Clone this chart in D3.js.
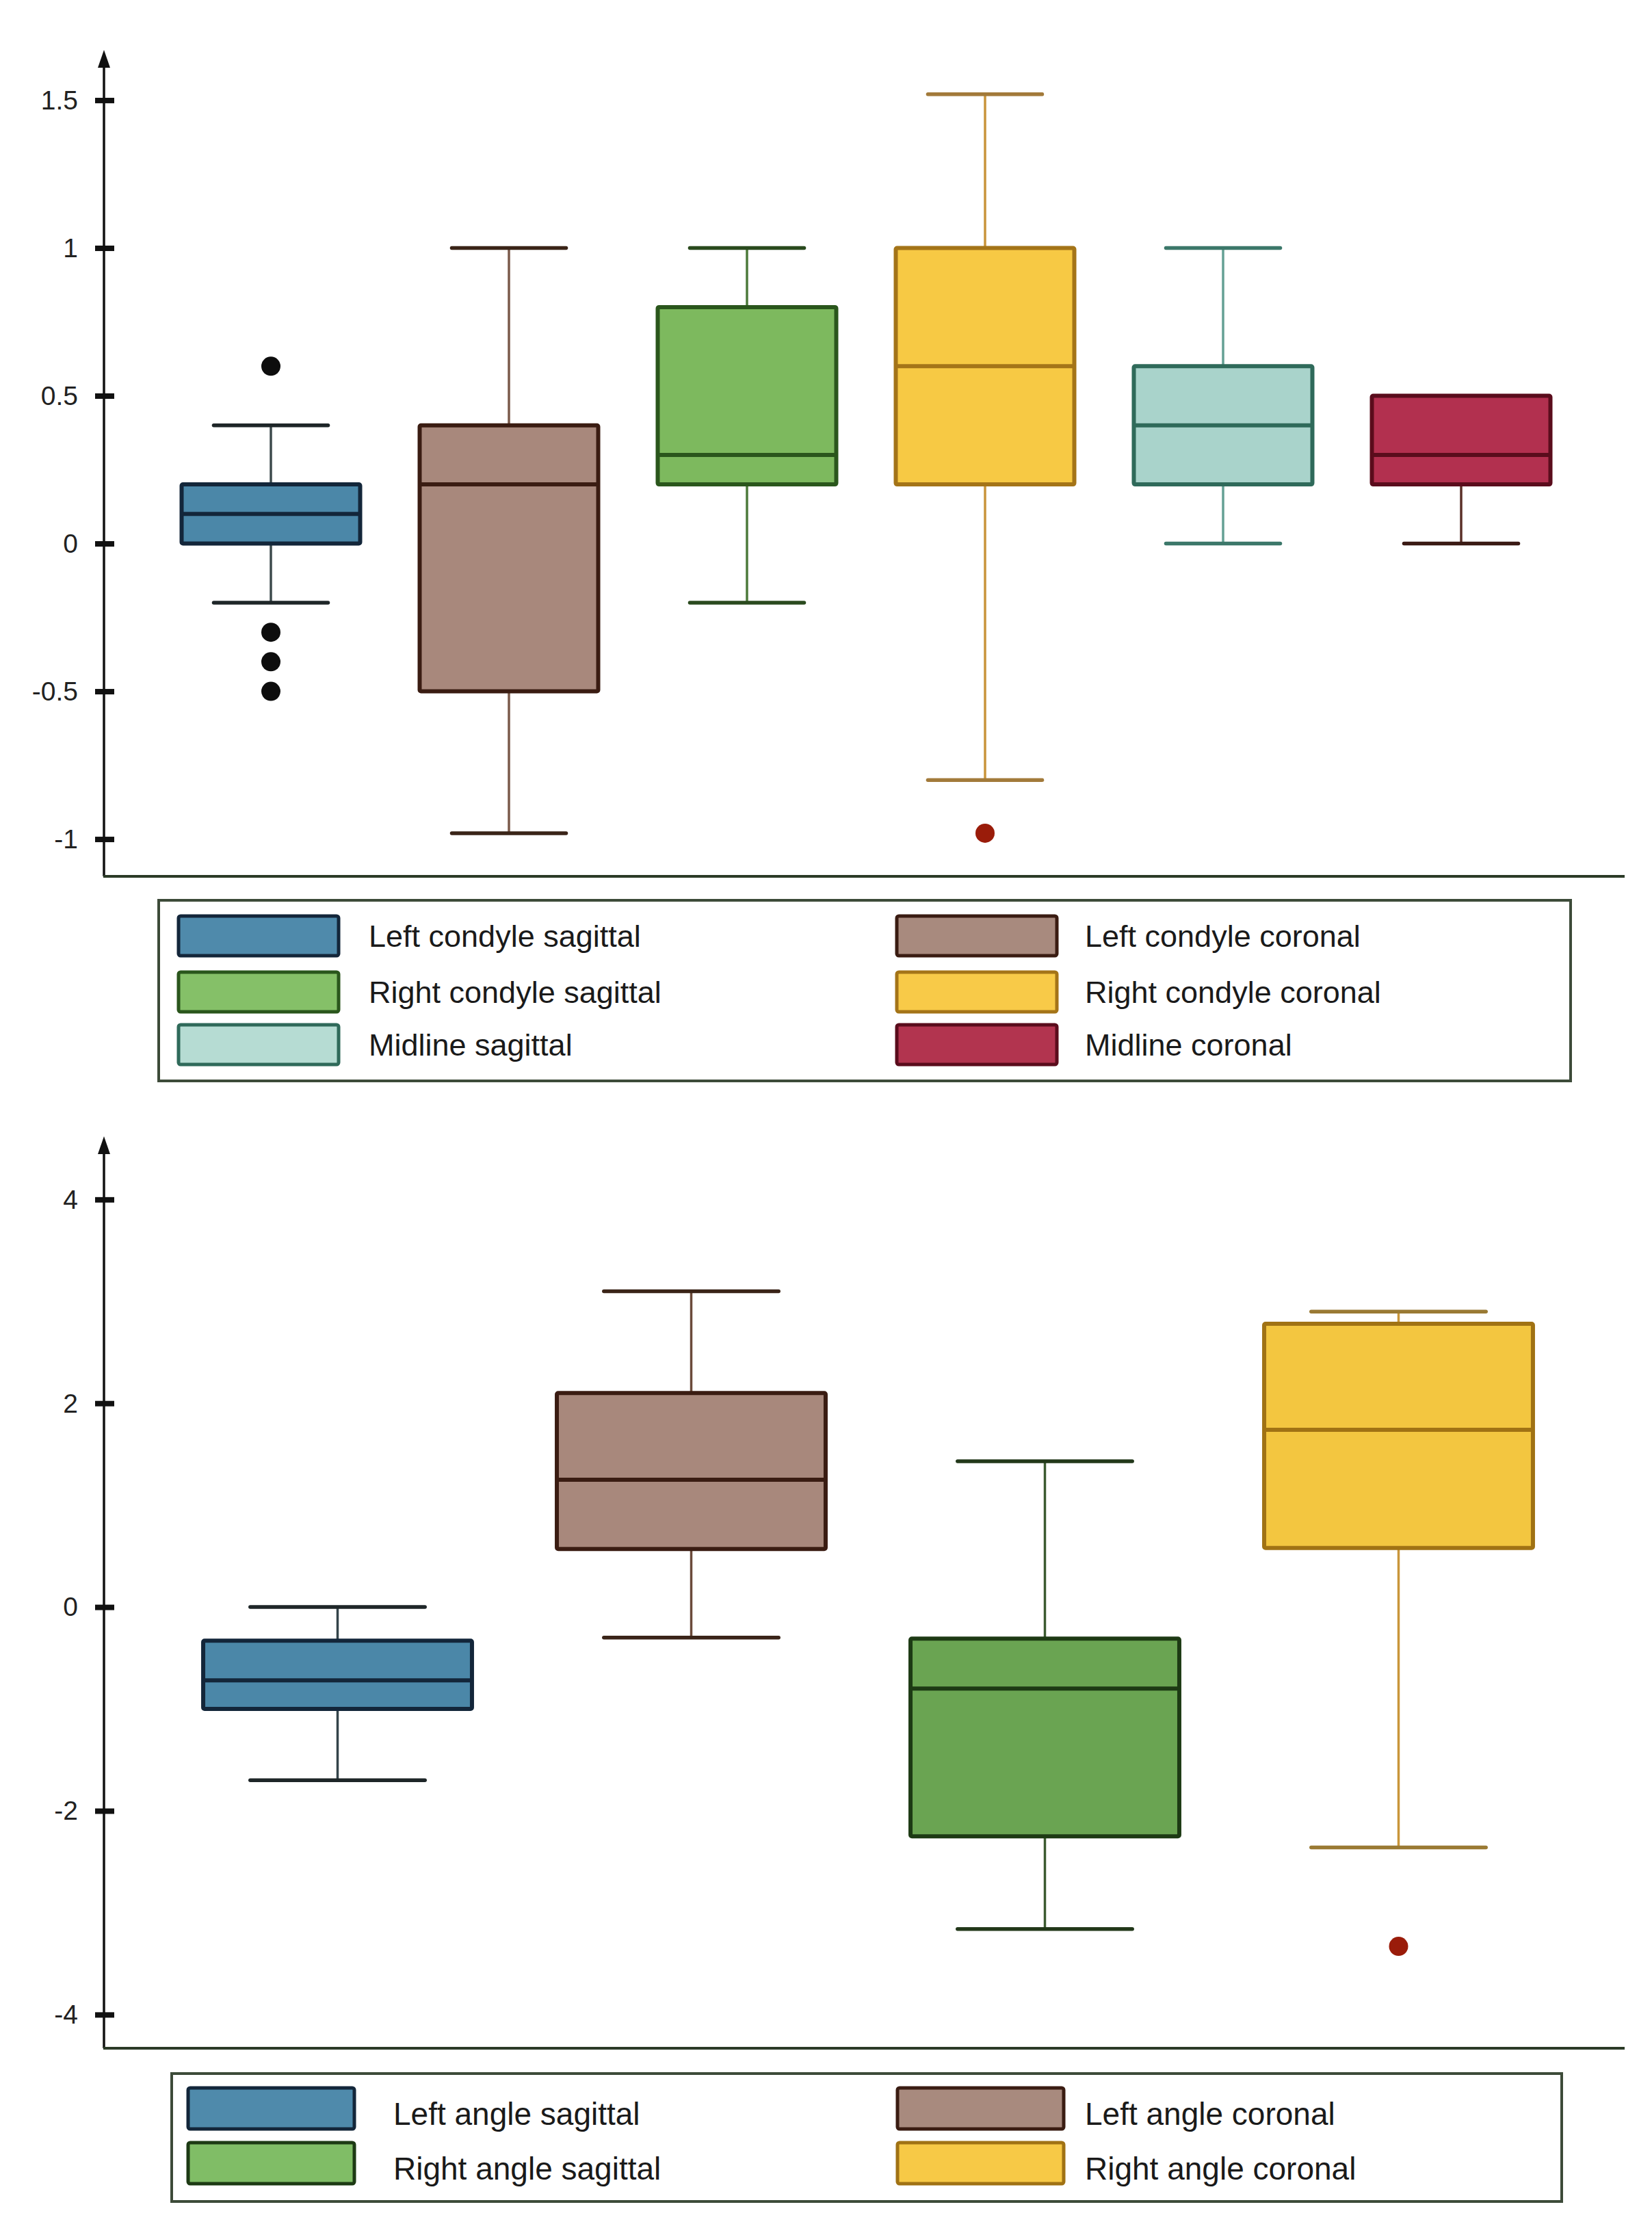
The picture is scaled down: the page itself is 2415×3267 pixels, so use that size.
<!DOCTYPE html>
<html><head><meta charset="utf-8">
<script src="https://cdn.jsdelivr.net/npm/d3@7"></script>
<style>html,body{margin:0;padding:0;background:#fff;} svg{display:block;}</style>
</head><body>
<svg id="chart" width="2415" height="3267"></svg>
<script>
// ---------------- DATA ----------------
const topCategories = ["Left condyle sagittal","Left condyle coronal","Right condyle sagittal","Right condyle coronal","Midline sagittal","Midline coronal"];
const topMin    = [-0.2, -0.98, -0.2, -0.8, 0.0, 0.0];
const topQ1     = [0.0, -0.5, 0.2, 0.2, 0.2, 0.2];
const topMedian = [0.1, 0.2, 0.3, 0.6, 0.4, 0.3];
const topQ3     = [0.2, 0.4, 0.8, 1.0, 0.6, 0.5];
const topMax    = [0.4, 1.0, 1.0, 1.52, 1.0, 0.5];
const topOutliers = [[0.6, -0.3, -0.4, -0.5], [], [], [-0.98], [], []];
const topTicks = [1.5, 1, 0.5, 0, -0.5, -1];
const topTickLabels = ["1.5", "1", "0.5", "0", "-0.5", "-1"];

const bottomCategories = ["Left angle sagittal","Left angle coronal","Right angle sagittal","Right angle coronal"];
const bottomMin    = [-1.7, -0.3, -3.16, -2.36];
const bottomQ1     = [-1.0, 0.57, -2.25, 0.58];
const bottomMedian = [-0.72, 1.25, -0.8, 1.74];
const bottomQ3     = [-0.33, 2.1, -0.31, 2.78];
const bottomMax    = [0.0, 3.1, 1.43, 2.9];
const bottomOutliers = [[], [], [], [-3.33]];
const bottomTicks = [4, 2, 0, -2, -4];
const bottomTickLabels = ["4", "2", "0", "-2", "-4"];

// ---------------- STYLES ----------------
const topStyles = [
  {fill:"#4b87a8", stroke:"#13263a", whisker:"#3c4a4c", cap:"#1e2628", outlier:"#0d0d0d", legendFill:"#4f8aab"},
  {fill:"#a8887c", stroke:"#3a1c12", whisker:"#7a5a4a", cap:"#3a2418", outlier:"#0d0d0d", legendFill:"#a88a7e"},
  {fill:"#7db95e", stroke:"#2a561c", whisker:"#4c7a3a", cap:"#2a4a1e", outlier:"#0d0d0d", legendFill:"#85c068"},
  {fill:"#f7c944", stroke:"#a47418", whisker:"#c9943a", cap:"#a27a3a", outlier:"#9a1c0a", legendFill:"#f8ca48"},
  {fill:"#a9d3cb", stroke:"#2f6a5a", whisker:"#64a094", cap:"#3c786a", outlier:"#0d0d0d", legendFill:"#b6dcd3"},
  {fill:"#b2304f", stroke:"#5a0c1c", whisker:"#5a3028", cap:"#3a1a14", outlier:"#0d0d0d", legendFill:"#b2344f"}
];
const bottomStyles = [
  {fill:"#4b87a8", stroke:"#13263a", whisker:"#34444a", cap:"#1e2628", outlier:"#0d0d0d", legendFill:"#4f8aab"},
  {fill:"#a8887c", stroke:"#3a1c12", whisker:"#6a4a3a", cap:"#3a2418", outlier:"#0d0d0d", legendFill:"#a88a7e"},
  {fill:"#6aa452", stroke:"#1d3a14", whisker:"#3c5a30", cap:"#22381a", outlier:"#0d0d0d", legendFill:"#80bd66"},
  {fill:"#f3c640", stroke:"#a07214", whisker:"#c9963a", cap:"#9a7a34", outlier:"#9a1c0a", legendFill:"#f7c946"}
];

const FONT = "'Liberation Sans', Arial, Helvetica, sans-serif";
const svg = d3.select("#chart");
svg.append("rect").attr("width", 2415).attr("height", 3267).attr("fill", "#ffffff");

function drawPanel(cfg) {
  const g = svg.append("g");
  const y = d3.scaleLinear().domain(cfg.yDomain).range([cfg.axisBottom, cfg.axisTop]);
  const x = d3.scaleBand().domain(cfg.categories).range(cfg.xRange)
    .paddingInner(cfg.padInner).paddingOuter(cfg.padOuter);
  const bw = x.bandwidth();
  const capW = bw * cfg.capFrac;

  // y axis (ticks + labels via d3 axis)
  const axis = d3.axisLeft(y).tickValues(cfg.ticks)
    .tickFormat((d, i) => cfg.tickLabels[i]).tickSizeOuter(0);
  const ag = g.append("g").attr("transform", `translate(${cfg.axisX},0)`).call(axis);
  ag.select(".domain").remove();
  ag.selectAll(".tick line").attr("x1", -13).attr("x2", 15)
    .attr("stroke", "#111").attr("stroke-width", 8);
  ag.selectAll(".tick text").attr("x", -38).attr("dy", "0.33em")
    .attr("font-family", FONT).attr("font-size", 39).attr("fill", "#222");

  // vertical axis line with arrow
  g.append("line").attr("x1", cfg.axisX).attr("x2", cfg.axisX)
    .attr("y1", cfg.axisBottom).attr("y2", cfg.axisTop + 14)
    .attr("stroke", "#111").attr("stroke-width", 3.5);
  g.append("path")
    .attr("d", `M${cfg.axisX},${cfg.axisTop} L${cfg.axisX - 9},${cfg.axisTop + 26} L${cfg.axisX + 9},${cfg.axisTop + 26} Z`)
    .attr("fill", "#111");
  // horizontal axis line
  g.append("line").attr("x1", cfg.axisX - 1).attr("x2", cfg.axisRight)
    .attr("y1", cfg.axisBottom).attr("y2", cfg.axisBottom)
    .attr("stroke", "#2b3a27").attr("stroke-width", 4);

  cfg.categories.forEach((c, i) => {
    const st = cfg.styles[i];
    const cx = x(c) + bw / 2;
    const bg = g.append("g");
    // whiskers
    if (cfg.max[i] > cfg.q3[i]) {
      bg.append("line").attr("x1", cx).attr("x2", cx)
        .attr("y1", y(cfg.max[i])).attr("y2", y(cfg.q3[i]))
        .attr("stroke", st.whisker).attr("stroke-width", 3.5);
      bg.append("line").attr("x1", cx - capW / 2).attr("x2", cx + capW / 2)
        .attr("y1", y(cfg.max[i])).attr("y2", y(cfg.max[i]))
        .attr("stroke", st.cap).attr("stroke-width", 5.5).attr("stroke-linecap", "round");
    }
    if (cfg.min[i] < cfg.q1[i]) {
      bg.append("line").attr("x1", cx).attr("x2", cx)
        .attr("y1", y(cfg.q1[i])).attr("y2", y(cfg.min[i]))
        .attr("stroke", st.whisker).attr("stroke-width", 3.5);
      bg.append("line").attr("x1", cx - capW / 2).attr("x2", cx + capW / 2)
        .attr("y1", y(cfg.min[i])).attr("y2", y(cfg.min[i]))
        .attr("stroke", st.cap).attr("stroke-width", 5.5).attr("stroke-linecap", "round");
    }
    // box
    bg.append("rect").attr("x", x(c)).attr("width", bw)
      .attr("y", y(cfg.q3[i])).attr("height", y(cfg.q1[i]) - y(cfg.q3[i]))
      .attr("fill", st.fill).attr("stroke", st.stroke).attr("stroke-width", 6).attr("rx", 2);
    // median
    bg.append("line").attr("x1", x(c) + 2).attr("x2", x(c) + bw - 2)
      .attr("y1", y(cfg.median[i])).attr("y2", y(cfg.median[i]))
      .attr("stroke", st.stroke).attr("stroke-width", 6);
    // outliers
    bg.selectAll("circle.out").data(cfg.outliers[i]).join("circle")
      .attr("class", "out").attr("cx", cx).attr("cy", d => y(d))
      .attr("r", cfg.outlierR).attr("fill", st.outlier);
  });

  // legend
  const L = cfg.legend;
  const lg = g.append("g");
  lg.append("rect").attr("x", L.x).attr("y", L.y).attr("width", L.w).attr("height", L.h)
    .attr("fill", "#ffffff").attr("stroke", "#3d4b39").attr("stroke-width", 4);
  cfg.categories.forEach((c, i) => {
    const st = cfg.styles[i];
    const col = i % 2, row = Math.floor(i / 2);
    const sx = L.colX[col], sy = L.rowY[row];
    lg.append("rect").attr("x", sx).attr("y", sy).attr("width", L.sw).attr("height", L.sh)
      .attr("fill", st.legendFill).attr("stroke", st.stroke).attr("stroke-width", 5).attr("rx", 3);
    lg.append("text").attr("x", L.textX[col]).attr("y", sy + L.sh / 2 + L.textDy)
      .attr("dy", "0.35em").attr("font-family", FONT).attr("font-size", L.fontSize)
      .attr("fill", "#1a1a1a").text(c);
  });
}

drawPanel({
  categories: topCategories, min: topMin, q1: topQ1, median: topMedian, q3: topQ3, max: topMax,
  outliers: topOutliers, ticks: topTicks, tickLabels: topTickLabels, styles: topStyles,
  yDomain: [-1.126, 1.67], axisBottom: 1281, axisTop: 73, axisX: 152, axisRight: 2375,
  xRange: [222, 2310], padInner: 0.25, padOuter: 0.125, capFrac: 0.64, outlierR: 14,
  legend: {x: 232, y: 1316, w: 2064, h: 264, sw: 234, sh: 58,
           colX: [261, 1311], textX: [539, 1586], rowY: [1339, 1421, 1498],
           fontSize: 45, textDy: 0}
});

drawPanel({
  categories: bottomCategories, min: bottomMin, q1: bottomQ1, median: bottomMedian, q3: bottomQ3, max: bottomMax,
  outliers: bottomOutliers, ticks: bottomTicks, tickLabels: bottomTickLabels, styles: bottomStyles,
  yDomain: [-4.33, 4.62], axisBottom: 2994, axisTop: 1661, axisX: 152, axisRight: 2375,
  xRange: [235, 2303], padInner: 0.24, padOuter: 0.12, capFrac: 0.65, outlierR: 14,
  legend: {x: 251, y: 3031, w: 2032, h: 187, sw: 243, sh: 60,
           colX: [275, 1312], textX: [575, 1586], rowY: [3052, 3132],
           fontSize: 46, textDy: 8}
});
</script>
</body></html>
